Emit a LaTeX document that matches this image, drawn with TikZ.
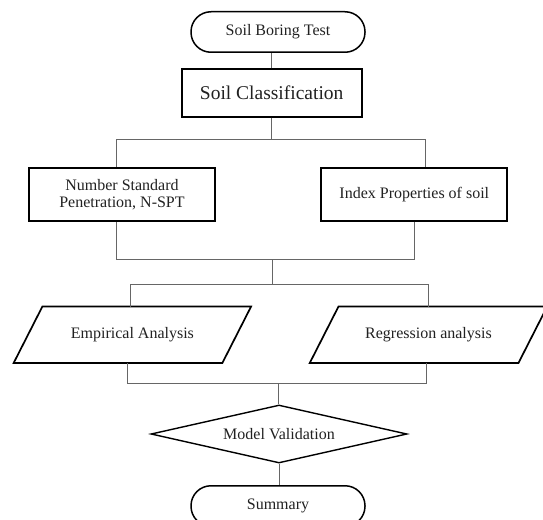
\documentclass[tikz,border=0pt]{standalone}
\usepackage{fontspec}
\setmainfont{Liberation Serif}
\usetikzlibrary{shapes.geometric,calc}
\begin{document}
\begin{tikzpicture}[x=1pt,y=-1pt,
  every node/.style={inner sep=0pt, text=black!87, font=\fontsize{16}{17}\selectfont},
  term/.style={draw=black, line width=1.5pt, rounded corners=20pt, minimum width=174pt, minimum height=40.5pt},
  box/.style={draw=black, line width=2.1pt, minimum width=186pt, minimum height=53pt, align=center},
  parab/.style={draw=black, line width=1.7pt, line join=miter},
  paratext/.style={minimum width=208.3pt, minimum height=56pt},
  dec/.style={draw=black, line width=1.4pt, diamond, aspect=4.4, minimum width=256pt, minimum height=58pt},
  conn/.style={draw=black!60, line width=1pt}]
\clip (0,0) rectangle (543,519);
% nodes
\node[term] (t1) at (278,32) {Soil Boring Test};
\node[box, line width=2pt, minimum width=180pt, minimum height=47.4pt, font=\fontsize{19.5}{21}\selectfont] (sc) at (271.7,93) {Soil Classification};
\node[box] (n1) at (122,194.5) {Number Standard\\Penetration, N-SPT};
\node[box] (n2) at (414.3,194.3) {Index Properties of soil};
\node[paratext] (e) at (132.4,334.7) {Empirical Analysis};
\node[paratext] (r) at (428.5,334.7) {Regression analysis};
\foreach \n in {e,r}{
  \draw[parab] ($(\n.north west)+(14.35,0)$) -- ($(\n.north east)+(14.35,0)$) -- ($(\n.south east)+(-14.35,0)$) -- ($(\n.south west)+(-14.35,0)$) -- cycle;
}
\node[dec] (mv) at (279,434) {Model Validation};
\node[term] (sm) at (278,506) {Summary};
% junction coordinates
\coordinate (h1l) at (116,139.3);
\coordinate (h1r) at (425.5,139.3);
\coordinate (h2l) at (116,259);
\coordinate (h2r) at (414,259);
\coordinate (h2c) at (272.7,259);
\coordinate (h3l) at (130,284);
\coordinate (h3r) at (428,284);
\coordinate (h4l) at (127.7,383);
\coordinate (h4r) at (426,383);
\coordinate (h4c) at (278,383);
% connectors
\draw[conn] (sc.north) -- (sc.north |- t1.south);
\draw[conn] (sc.south) -- (sc.south |- h1l);
\draw[conn] (h1l |- n1.north) -- (h1l) -- (h1r) -- (h1r |- n2.north);
\draw[conn] (h2l |- n1.south) -- (h2l) -- (h2r) -- (h2r |- n2.south);
\draw[conn] (h2c) -- (h2c |- h3l);
\draw[conn] (h3l |- e.north) -- (h3l) -- (h3r) -- (h3r |- r.north);
\draw[conn] (h4l |- e.south) -- (h4l) -- (h4r) -- (h4r |- r.south);
\draw[conn] (h4c) -- (h4c |- mv.north);
\draw[conn] (mv.south) -- (mv.south |- sm.north);
\end{tikzpicture}
\end{document}
